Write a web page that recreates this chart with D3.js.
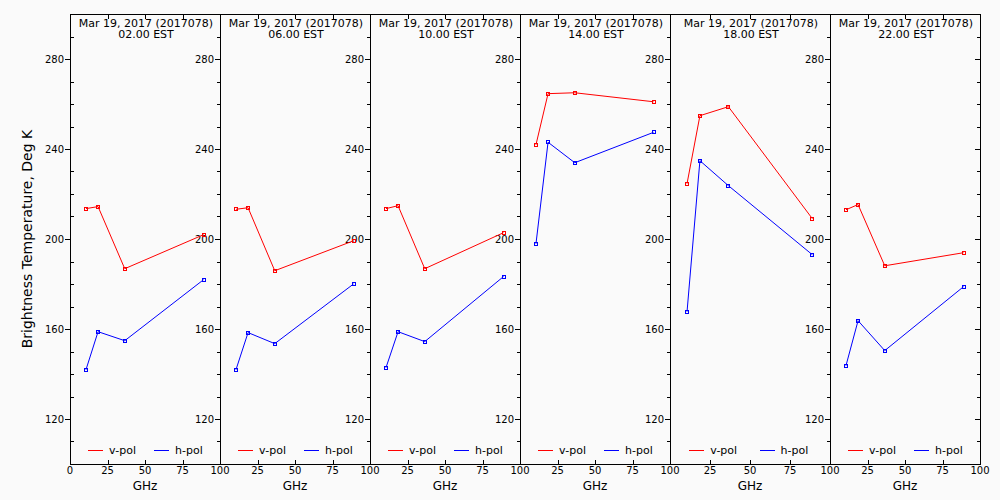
<!DOCTYPE html>
<html><head><meta charset="utf-8">
<script src="https://cdn.jsdelivr.net/npm/d3@7"></script>
<style>
html,body{margin:0;padding:0;background:#fafafa;}
svg{display:block;font-family:"DejaVu Sans",sans-serif;}
</style></head>
<body><svg id="c" width="1000" height="500"></svg>
<script>
// ---- data ----
const dateLabel = "Mar 19, 2017 (2017078)";
const times = ["02.00 EST","06.00 EST","10.00 EST","14.00 EST","18.00 EST","22.00 EST"];
const freqs = [10.65, 18.7, 36.5, 89.0];
const vpol = [
  [213.5, 214.4, 186.8, 201.9],
  [213.2, 213.9, 185.9, 199.2],
  [213.5, 214.8, 186.8, 202.8],
  [241.9, 264.6, 265.0, 261.0],
  [224.6, 254.8, 258.8, 209.0],
  [213.0, 215.3, 188.1, 193.9]
];
const hpol = [
  [141.9, 158.8, 154.8, 181.9],
  [141.9, 158.4, 153.5, 180.0],
  [142.8, 158.8, 154.4, 183.3],
  [197.9, 243.0, 233.9, 247.4],
  [167.7, 234.8, 223.7, 193.0],
  [143.7, 163.7, 150.4, 178.8]
];
const xTicks = [0, 25, 50, 75, 100];
const yMajorTicks = [120, 160, 200, 240, 280];
const yMinorTicks = [110,130,140,150,170,180,190,210,220,230,250,260,270,290];
const seriesNames = ["v-pol", "h-pol"];
const seriesColors = ["#ff0000", "#0000ff"];

(function(){
// ---- layout ----
const edges = [70, 220, 370, 520, 670, 830, 980];
const plotTop = 14, plotBottom = 464;
const svg = d3.select("#c");
svg.append("rect").attr("width",1000).attr("height",500).attr("fill","#fafafa");

const y = d3.scaleLinear().domain([100, 300]).range([plotBottom, plotTop]);

const g = svg.append("g");

// frame lines
g.append("line").attr("x1",edges[0]).attr("x2",edges[6]+1).attr("y1",plotTop+0.5).attr("y2",plotTop+0.5)
  .attr("stroke","#000").attr("shape-rendering","crispEdges");
g.append("line").attr("x1",edges[0]).attr("x2",edges[6]+1).attr("y1",plotBottom+0.5).attr("y2",plotBottom+0.5)
  .attr("stroke","#000").attr("shape-rendering","crispEdges");
edges.forEach((ex,i)=>{
  g.append("line").attr("x1",ex+0.5).attr("x2",ex+0.5).attr("y1",plotTop).attr("y2",plotBottom+1)
    .attr("stroke","#000").attr("shape-rendering","crispEdges");
  yMajorTicks.forEach(t=>{
    const yy = Math.round(y(t))+0.5;
    g.append("line").attr("x1",ex-5).attr("x2",ex+0.5).attr("y1",yy).attr("y2",yy)
      .attr("stroke","#000").attr("shape-rendering","crispEdges");
  });
  yMinorTicks.forEach(t=>{
    const yy = Math.round(y(t))+0.5;
    const x1 = i===0 ? ex+0.5 : ex-3;
    const x2 = i===0 ? ex+4 : ex+0.5;
    g.append("line").attr("x1",x1).attr("x2",x2).attr("y1",yy).attr("y2",yy)
      .attr("stroke","#000").attr("shape-rendering","crispEdges");
  });
  if (i < 6) {
    yMajorTicks.forEach(t=>{
      g.append("text").attr("x",ex-6).attr("y",y(t)).attr("dy","0.35em")
        .attr("text-anchor","end").attr("font-size","10px").attr("fill","#000").text(t);
    });
  }
});

// panels
for (let p = 0; p < 6; p++) {
  const x0 = edges[p], x1 = edges[p+1], w = x1 - x0;
  const x = d3.scaleLinear().domain([0, 100]).range([x0, x1]);
  const pg = svg.append("g");

  xTicks.filter(t=>t>0 && t<100).forEach(t=>{
    const xx = Math.round(x(t))+0.5;
    pg.append("line").attr("x1",xx).attr("x2",xx).attr("y1",plotTop).attr("y2",plotTop+5)
      .attr("stroke","#000").attr("shape-rendering","crispEdges");
    pg.append("line").attr("x1",xx).attr("x2",xx).attr("y1",plotBottom-4).attr("y2",plotBottom)
      .attr("stroke","#000").attr("shape-rendering","crispEdges");
  });
  xTicks.filter(t=> p===0 || t>0).forEach(t=>{
    pg.append("text").attr("x",x(t)).attr("y",473.5).attr("text-anchor","middle")
      .attr("font-size","10px").attr("fill","#000").text(t);
  });
  pg.append("text").attr("x",(x0+x1)/2).attr("y",490).attr("text-anchor","middle")
    .attr("font-size","12px").attr("fill","#000").text("GHz");

  pg.append("text").attr("x",(x0+x1)/2+1).attr("y",26.5).attr("text-anchor","middle")
    .attr("font-size","11px").attr("fill","#000").text(dateLabel);
  pg.append("text").attr("x",(x0+x1)/2+1).attr("y",37.5).attr("text-anchor","middle")
    .attr("font-size","11px").attr("fill","#000").text(times[p]);

  [vpol[p], hpol[p]].forEach((vals, si)=>{
    const pts = freqs.map((f,k)=>[x(f), y(vals[k])]);
    pg.append("path").attr("d", d3.line()(pts)).attr("fill","none")
      .attr("stroke", seriesColors[si]).attr("stroke-width",1);
    pts.forEach(pt=>{
      pg.append("rect").attr("x",Math.round(pt[0])-1.5).attr("y",Math.round(pt[1])-1.5)
        .attr("width",3).attr("height",3).attr("fill","none")
        .attr("stroke",seriesColors[si]).attr("stroke-width",1).attr("shape-rendering","crispEdges");
    });
  });

  const ly = 450.5;
  const legendX = [0.12, 0.56];
  seriesNames.forEach((nm, si)=>{
    const lx = x0 + legendX[si]*w;
    pg.append("line").attr("x1",lx).attr("x2",lx+15).attr("y1",ly).attr("y2",ly)
      .attr("stroke",seriesColors[si]).attr("stroke-width",1).attr("shape-rendering","crispEdges");
    pg.append("text").attr("x",lx+21).attr("y",454).attr("font-size","11px").attr("fill","#000").text(nm);
  });
}

svg.append("text").attr("transform","translate(32,239) rotate(-90)").attr("text-anchor","middle")
  .attr("font-size","14px").attr("fill","#000").text("Brightness Temperature, Deg K");
})();
</script>
</body></html>
